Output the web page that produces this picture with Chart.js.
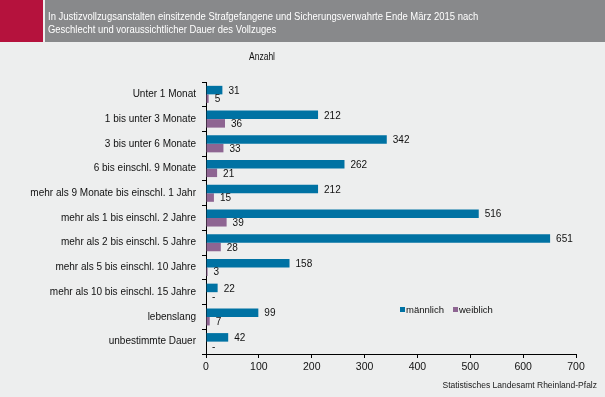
<!DOCTYPE html>
<html><head><meta charset="utf-8">
<script src="https://cdn.jsdelivr.net/npm/chart.js@4"></script>
<style>html,body{margin:0;padding:0;background:#edeeee}canvas{display:block}</style>
</head><body>
<div style="width:605px;height:397px"><canvas id="c" width="605" height="397"></canvas></div>
<script>
const categories = ["Unter 1 Monat","1 bis unter 3 Monate","3 bis unter 6 Monate","6 bis einschl. 9 Monate","mehr als 9 Monate bis einschl. 1 Jahr","mehr als 1 bis einschl. 2 Jahre","mehr als 2 bis einschl. 5 Jahre","mehr als 5 bis einschl. 10 Jahre","mehr als 10 bis einschl. 15 Jahre","lebenslang","unbestimmte Dauer"];
const maleValues = [31,212,342,262,212,516,651,158,22,99,42];
const femaleValues = [5,36,33,21,15,39,28,3,0,7,0];
const femaleLabels = ["5","36","33","21","15","39","28","3","-","7","-"];
const maleLabels = maleValues.map(String);
const titleLines = ["In Justizvollzugsanstalten einsitzende Strafgefangene und Sicherungsverwahrte Ende März 2015 nach","Geschlecht und voraussichtlicher Dauer des Vollzuges"];
const unitLabel = "Anzahl";
const sourceText = "Statistisches Landesamt Rheinland-Pfalz";
const seriesNames = ["männlich","weiblich"];
const colors = ["#0072a3","#8e6592"];
const FONT = "'Liberation Sans', Arial, sans-serif";

const deco = {
  id:'deco',
  beforeDraw(chart){
    const ctx = chart.ctx;
    ctx.save();
    ctx.fillStyle = '#edeeee'; ctx.fillRect(0,0,605,397);
    ctx.fillStyle = '#b5123d'; ctx.fillRect(0,0,43,42);
    ctx.fillStyle = '#88898b'; ctx.fillRect(45,0,560,42);
    ctx.fillStyle = '#ffffff'; ctx.font = '11px '+FONT; ctx.textBaseline='middle'; ctx.textAlign='left';
    ctx.save(); ctx.translate(48,0); ctx.scale(0.86,1);
    ctx.fillText(titleLines[0],0,17);
    ctx.fillText(titleLines[1],0,30);
    ctx.restore();
    ctx.fillStyle = '#111'; ctx.textAlign='center'; ctx.font = '10px '+FONT;
    ctx.save(); ctx.translate(262,0); ctx.scale(0.85,1);
    ctx.fillText(unitLabel,0,57);
    ctx.restore();
    ctx.font = '8.5px '+FONT; ctx.textAlign='right'; ctx.fillStyle='#1a1a1a';
    ctx.fillText(sourceText,597,386);
    ctx.restore();
  },
  afterDatasetsDraw(chart){
    const ctx = chart.ctx;
    ctx.save();
    ctx.font = '10px '+FONT; ctx.fillStyle = '#111'; ctx.textBaseline='middle'; ctx.textAlign='left';
    const lbls = [maleLabels, femaleLabels];
    chart.data.datasets.forEach((ds,di)=>{
      chart.getDatasetMeta(di).data.forEach((bar,i)=>{
        ctx.fillText(lbls[di][i], bar.x + 6, bar.y + 1);
      });
    });
    // legend
    ctx.font = '9.5px '+FONT;
    const items = [[400,seriesNames[0]],[453,seriesNames[1]]];
    items.forEach((it,k)=>{
      ctx.fillStyle = colors[k]; ctx.fillRect(it[0],307,5,5);
      ctx.fillStyle = '#111'; ctx.fillText(it[1], it[0]+6, 310);
    });
    ctx.restore();
  }
};

new Chart(document.getElementById('c'),{
  type:'bar',
  data:{labels:categories,datasets:[
    {label:seriesNames[0],data:maleValues,backgroundColor:colors[0],categoryPercentage:0.69,barPercentage:1},
    {label:seriesNames[1],data:femaleValues,backgroundColor:colors[1],categoryPercentage:0.69,barPercentage:1}
  ]},
  options:{
    indexAxis:'y',responsive:false,animation:false,devicePixelRatio:1,
    layout:{padding:{top:82,right:29,bottom:0,left:0}},
    plugins:{legend:{display:false},tooltip:{enabled:false},title:{display:false}},
    scales:{
      x:{min:0,max:700,
        ticks:{stepSize:100,color:'#111',font:{family:FONT,size:10.5},padding:3},
        grid:{drawOnChartArea:false,drawTicks:true,tickLength:4,color:'#000'},
        border:{display:true,color:'#000'},
        afterFit(s){s.height=43;}
      },
      y:{
        ticks:{color:'#111',font:{family:FONT,size:10},padding:6},
        grid:{drawOnChartArea:false,drawTicks:true,tickLength:4,offset:true,color:'#000'},
        border:{display:true,color:'#000'},
        afterFit(s){s.width=206;}
      }
    }
  },
  plugins:[deco]
});
</script>
</body></html>
